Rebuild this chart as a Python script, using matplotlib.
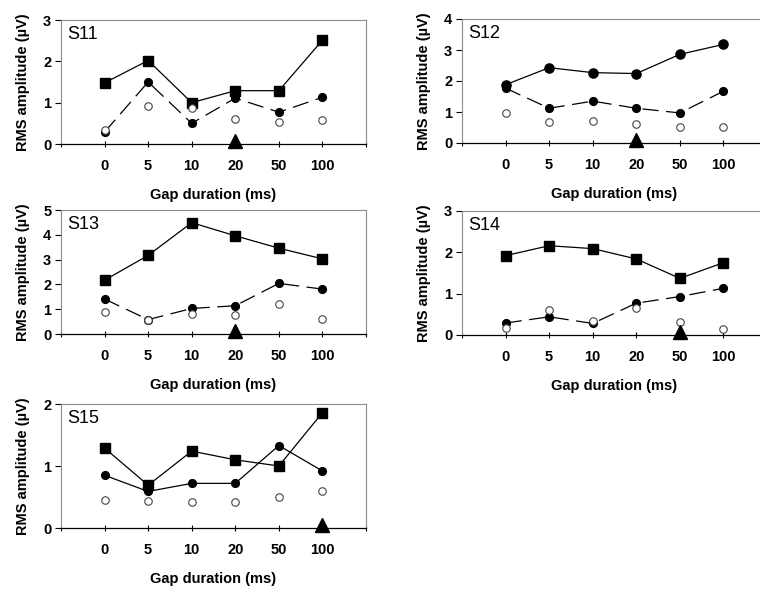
import matplotlib.pyplot as plt
import numpy as np

plt.rcParams['font.family'] = ['Liberation Sans', 'DejaVu Sans']

gaps = ["0", "5", "10", "20", "50", "100"]

# upper curve (solid), middle curve (filled circles), open circles, triangle position
s11_top = [1.48, 2.02, 1.00, 1.29, 1.29, 2.51]
s11_mid = [0.29, 1.50, 0.50, 1.11, 0.77, 1.13]
s11_open = [0.35, 0.92, 0.86, 0.60, 0.53, 0.59]
s11_tri = "20"

s12_top = [1.88, 2.43, 2.27, 2.24, 2.86, 3.18]
s12_mid = [1.77, 1.12, 1.35, 1.12, 0.97, 1.67]
s12_open = [0.96, 0.69, 0.72, 0.62, 0.53, 0.53]
s12_tri = "20"

s13_top = [2.17, 3.17, 4.49, 3.96, 3.46, 3.03]
s13_mid = [1.41, 0.58, 1.03, 1.14, 2.04, 1.81]
s13_open = [0.90, 0.55, 0.80, 0.76, 1.21, 0.59]
s13_tri = "20"

s14_top = [1.92, 2.16, 2.09, 1.84, 1.37, 1.75]
s14_mid = [0.29, 0.44, 0.28, 0.77, 0.93, 1.13]
s14_open = [0.18, 0.61, 0.33, 0.66, 0.31, 0.14]
s14_tri = "50"

s15_top = [1.29, 0.69, 1.24, 1.10, 1.00, 1.86]
s15_mid = [0.85, 0.59, 0.72, 0.72, 1.33, 0.92]
s15_open = [0.45, 0.43, 0.42, 0.42, 0.50, 0.60]
s15_tri = "100"

fig = plt.figure(figsize=(7.6, 5.93), dpi=100)
W, H = 760, 593

dash = (0, (13, 6))
# (name, top, mid, open, tri, ymax, left px, top px, top marker, mid line style)
panels = [
    ("S11", s11_top, s11_mid, s11_open, s11_tri, 3, 61, 20, 's', dash),
    ("S12", s12_top, s12_mid, s12_open, s12_tri, 4, 462, 19, 'o', dash),
    ("S13", s13_top, s13_mid, s13_open, s13_tri, 5, 61, 210, 's', dash),
    ("S14", s14_top, s14_mid, s14_open, s14_tri, 3, 462, 211, 's', dash),
    ("S15", s15_top, s15_mid, s15_open, s15_tri, 2, 61, 404, 's', '-'),
]

x = np.arange(len(gaps))
for name, top, mid, opn, tri, ymax, lx, ty, mk, mls in panels:
    aw, ah = 305, 124
    ax = fig.add_axes([lx / W, 1 - (ty + ah) / H, aw / W, ah / H])
    ax.plot(x, top, color='black', lw=0.9, marker=mk,
            ms=6.8 if mk == 's' else 6.6, zorder=3)
    ax.plot(x, mid, color='black', lw=0.9, ls=mls, marker='o', ms=5.6, zorder=3)
    ax.plot(x, opn, ls='none', marker='o', ms=5.4, mfc='white',
            mec='#444444', mew=0.8, zorder=4)
    ax.plot(gaps.index(tri), 0.07 * ymax / 3, ls='none', marker='^', ms=10,
            color='black', clip_on=False, zorder=5)

    ax.set_xlim(-1, 6)
    ax.set_ylim(0, ymax)
    ax.set_xticks(x)
    ax.set_xticklabels(gaps, fontsize=10.5, fontweight='bold')
    ax.set_xticks([-1, 6], minor=True)
    ax.set_yticks(range(ymax + 1))
    ax.set_yticklabels([str(v) for v in range(ymax + 1)], fontsize=10.5,
                       fontweight='bold')
    ax.tick_params(axis='x', which='both', direction='inout', length=4,
                   width=0.8, pad=9)
    ax.tick_params(axis='y', direction='out', length=4, width=0.8, pad=3)

    for s in ['top', 'right', 'left']:
        ax.spines[s].set_color('#8c8c8c')
        ax.spines[s].set_linewidth(0.8)
    ax.spines['bottom'].set_color('black')
    ax.spines['bottom'].set_linewidth(0.9)

    ax.text(6 / aw, 1 - 6 / ah, name, transform=ax.transAxes, fontsize=13,
            va='top', ha='left')
    ax.set_xlabel("Gap duration (ms)", fontsize=10.5, fontweight='bold')
    ax.set_ylabel("RMS amplitude (\u00b5V)", fontsize=10.5, fontweight='bold')
    ax.xaxis.set_label_coords(0.5, -44 / ah)
    ax.yaxis.set_label_coords(-31 / aw, 0.5)

plt.savefig('out.png', dpi=100)
